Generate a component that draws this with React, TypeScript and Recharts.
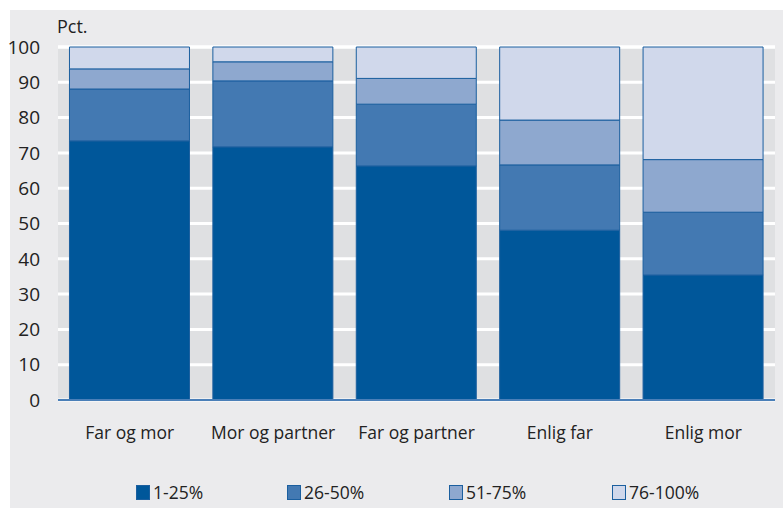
import React from 'react';
import { BarChart, Bar, XAxis, YAxis, CartesianGrid } from 'recharts';

const categories = ['Far og mor', 'Mor og partner', 'Far og partner', 'Enlig far', 'Enlig mor'];
const share1to25 = [73.4, 71.7, 66.3, 48.1, 35.4];
const share26to50 = [14.7, 18.7, 17.5, 18.5, 17.8];
const share51to75 = [5.7, 5.4, 7.3, 12.7, 14.9];
const share76to100 = [6.2, 4.2, 8.9, 20.7, 31.9];
const yTicks = [0, 10, 20, 30, 40, 50, 60, 70, 80, 90, 100];

const SERIES = [
  { key: 'a', label: '1-25%', color: '#00579a' },
  { key: 'b', label: '26-50%', color: '#4379b2' },
  { key: 'c', label: '51-75%', color: '#8ea8cf' },
  { key: 'd', label: '76-100%', color: '#d0d8eb' },
];

// legend item x positions (px)
const LEGEND_X = [136, 287, 449, 612];

const data = categories.map((name, i) => ({
  name,
  a: share1to25[i],
  b: share26to50[i],
  c: share51to75[i],
  d: share76to100[i],
}));

const FONT = '"Open Sans", sans-serif';
const EDGE = '#1b5f9f';

export default function App() {
  return (
    <div style={{ position: 'absolute', left: 0, top: 0, width: 783, height: 508, background: '#fff' }}>
      <div style={{ position: 'absolute', left: 10, top: 10, width: 773, height: 498, background: '#ebebed' }} />
      <div style={{ position: 'absolute', left: 57, top: 14, fontFamily: FONT, fontSize: 18, color: '#222' }}>Pct.</div>
      <div style={{ position: 'absolute', left: 0, top: 0 }}>
        <BarChart width={783} height={508} data={data} margin={{ top: 47, right: 8, bottom: 78, left: 0 }} barCategoryGap="8%">
          <CartesianGrid vertical={false} stroke="#ffffff" strokeWidth={3} fill="#dfe0e2" />
          <YAxis
            width={58}
            domain={[0, 100]}
            ticks={yTicks}
            interval={0}
            axisLine={false}
            tickLine={false}
            tickSize={0}
            tickMargin={18}
            tick={{ fill: '#222', fontSize: 19, fontFamily: FONT }}
          />
          <XAxis
            dataKey="name"
            height={30}
            axisLine={{ stroke: '#4a7fb8', strokeWidth: 2 }}
            tickLine={false}
            tickMargin={21}
            tick={{ fill: '#222', fontSize: 17.5, fontFamily: FONT }}
          />
          {SERIES.map((s) => (
            <Bar key={s.key} dataKey={s.key} name={s.label} stackId="s" fill={s.color} stroke={EDGE} strokeWidth={1} isAnimationActive={false} />
          ))}
        </BarChart>
      </div>
      {SERIES.map((s, i) => (
        <div
          key={s.key}
          style={{ position: 'absolute', left: LEGEND_X[i], top: 480, display: 'flex', alignItems: 'center', fontFamily: FONT, fontSize: 17.5, color: '#222' }}
        >
          <span style={{ width: 14, height: 15, background: s.color, border: `1px solid ${EDGE}`, marginRight: 3, boxSizing: 'border-box' }} />
          <span>{s.label}</span>
        </div>
      ))}
    </div>
  );
}
